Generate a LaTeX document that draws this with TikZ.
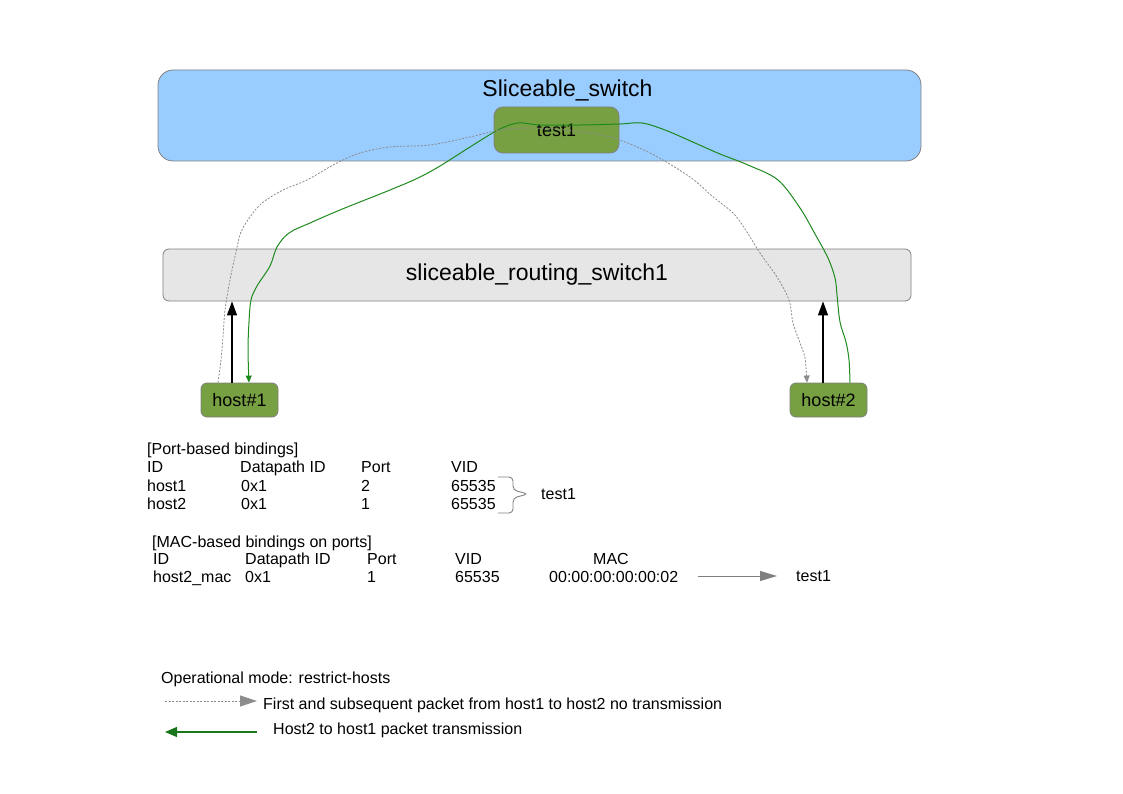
\documentclass[tikz,border=0pt]{standalone}
\usepackage{fontspec}
\setmainfont{Liberation Sans}
\usetikzlibrary{arrows.meta,calc}

\definecolor{swblue}{HTML}{99CCFF}
\definecolor{sliceg}{HTML}{77A043}
\definecolor{rsgray}{HTML}{E6E6E6}
\definecolor{edgegray}{HTML}{808080}
\definecolor{pathgreen}{HTML}{1E8A1E}
\definecolor{dashgray}{HTML}{8C8C8C}

\tikzset{
  bigtxt/.style={font=\fontsize{23}{27}\selectfont},
  midtxt/.style={font=\fontsize{18}{21}\selectfont},
  smalltxt/.style={font=\fontsize{16}{19}\selectfont, inner sep=0pt, anchor=base west},
  panel/.style={draw=edgegray, line width=0.8pt},
  hostbox/.style={panel, fill=sliceg, rounded corners=6pt, minimum width=77pt, minimum height=34pt, midtxt},
  uparrow/.style={line width=1.3pt, -{Triangle[length=14pt,width=10pt]}},
  greenpath/.style={pathgreen, line width=1pt},
  dashpath/.style={dashgray, line width=0.8pt, dash pattern=on 2pt off 1.5pt},
}

\begin{document}
\begin{tikzpicture}[x=1pt,y=-1pt]
\useasboundingbox (0,0) rectangle (1123,794);

% switches
\node[panel, fill=swblue, rounded corners=15pt, minimum width=763pt, minimum height=91pt] (ss) at (539.5,115.5) {};
\node[bigtxt] (sstitle) at (567.5,90) {Sliceable\_switch};
\node[panel, fill=sliceg, rounded corners=9pt, minimum width=125pt, minimum height=46pt, midtxt] (slice) at (556.5,130) {test1};
\node[panel, fill=rsgray, rounded corners=6pt, minimum width=748pt, minimum height=52pt, bigtxt] (rs) at (537,275) {sliceable\_routing\_switch1};

% hosts
\node[hostbox] (h1) at (239.5,400) {host\#1};
\node[hostbox] (h2) at (828.5,400) {host\#2};

% host uplinks
\draw[uparrow] ([xshift=-7.5pt]h1.north) -- ([xshift=-7.5pt]h1.north |- rs.south);
\draw[uparrow] ([xshift=-5.5pt]h2.north) -- ([xshift=-5.5pt]h2.north |- rs.south);

% host2 -> host1 packet path
\coordinate (gs) at ([xshift=21.5pt]h2.north);
\coordinate (ge) at ([xshift=9.5pt]h1.north);
\draw[greenpath, -{Triangle[length=7pt,width=6pt]}] plot[smooth, tension=0.55] coordinates {
  (gs) (849,360) (846,342) (840,322) (837,295) (835,278) (828,258) (815,234) (800,208)
  (778,180) (748,165) (720,154) (695,143) (665,130) (642,123) (620,124) (580,125)
  (540,125) (518,123) (498,130) (470,147) (440,166) (418,178) (390,190) (340,210)
  (310,223) (289,233) (277,247) (270,266) (257,286) (251,300) (249,322) (248,350) (ge)};

% host1 -> host2 dropped path
\coordinate (ds) at ([xshift=-21.5pt]h1.north);
\coordinate (de) at ([xshift=-21.5pt]h2.north);
\draw[dashpath, -{Triangle[length=7pt,width=6pt]}] plot[smooth, tension=0.55] coordinates {
  (ds) (221,360) (223,337) (225,310) (230,280) (236,252) (241,232) (250,217) (262,203)
  (283,190) (307,180) (335,164) (360,153) (390,147) (430,145) (470,137) (500,130)
  (530,128) (565,130) (610,137) (650,153) (690,177) (712,196) (733,213) (745,229)
  (760,253) (777,277) (789,300) (793,323) (800,343) (805,358) (de)};

% port-based bindings
\node[smalltxt] (pbh) at (147,454) {[Port-based bindings]};
\node[smalltxt] (pc1) at (147,472) {ID};
\node[smalltxt] (pc2) at (240,472) {Datapath ID};
\node[smalltxt] (pc3) at (361,472) {Port};
\node[smalltxt] (pc4) at (451,472) {VID};
\node[smalltxt] (pa1) at (147,491) {host1};
\node[smalltxt] (pa2) at (241,491) {0x1};
\node[smalltxt] (pa3) at (361,491) {2};
\node[smalltxt] (pa4) at (451,491) {65535};
\node[smalltxt] (pb1) at (147,509) {host2};
\node[smalltxt] (pb2) at (241,509) {0x1};
\node[smalltxt] (pb3) at (361,509) {1};
\node[smalltxt] (pb4) at (451,509) {65535};
% grouping brace
\coordinate (brt) at (498,477);
\coordinate (brtip) at (528,494);
\coordinate (brb) at (498,513);
\draw[edgegray, line width=0.9pt, rounded corners=4pt]
  (brt) -- (513,477) -- (513,490) -- (brtip) -- (513,498) -- (513,513) -- (brb);
\node[smalltxt] (pslice) at (541,499) {test1};

% MAC-based bindings
\node[smalltxt] (mbh) at (152,547) {[MAC-based bindings on ports]};
\node[smalltxt] (mc1) at (153,564) {ID};
\node[smalltxt] (mc2) at (245,564) {Datapath ID};
\node[smalltxt] (mc3) at (367,564) {Port};
\node[smalltxt] (mc4) at (455,564) {VID};
\node[smalltxt] (mc5) at (593,564) {MAC};
\node[smalltxt] (ma1) at (153,582) {host2\_mac};
\node[smalltxt] (ma2) at (245,582) {0x1};
\node[smalltxt] (ma3) at (367,582) {1};
\node[smalltxt] (ma4) at (455,582) {65535};
\node[smalltxt] (ma5) at (549,582) {00:00:00:00:00:02};
\node[smalltxt] (mslice) at (796,581) {test1};
\draw[edgegray, line width=1pt, -{Triangle[length=17pt,width=10pt]}] ([xshift=20pt]ma5.base east |- 0,576) -- ([xshift=-19pt]mslice.west |- 0,576);

% legend
\node[smalltxt] (mode) at (161,683) {Operational mode: restrict-hosts};
\coordinate (l1a) at (165,701);
\coordinate (l1b) at (257,701);
\draw[dashpath, -{Triangle[length=17pt,width=11pt]}] (l1a) -- (l1b);
\node[smalltxt] (l1t) at (263,709) {First and subsequent packet from host1 to host2 no transmission};
\coordinate (l2a) at (257,732);
\coordinate (l2b) at (165,732);
\draw[greenpath, pathgreen!85!black, line width=1.2pt, -{Triangle[length=12pt,width=10pt]}] (l2a) -- (l2b);
\node[smalltxt] (l2t) at (273,734) {Host2 to host1 packet transmission};
\end{tikzpicture}
\end{document}
